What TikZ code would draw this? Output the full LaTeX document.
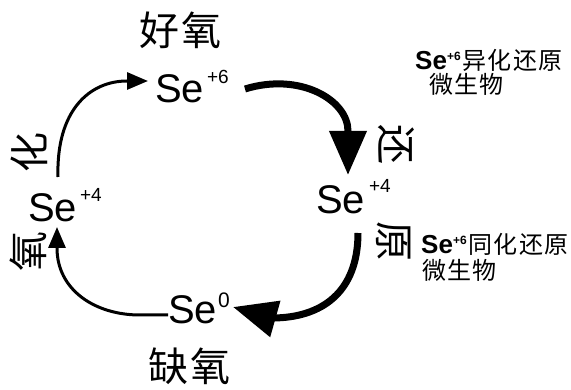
\documentclass[tikz,border=0pt]{standalone}
\usepackage{fontspec}
\setmainfont{Liberation Sans}
\newfontfamily\cjk{Noto Sans CJK SC}
\usetikzlibrary{arrows.meta}
\begin{document}
\begin{tikzpicture}[x=1pt,y=-1pt,
  bigcjk/.style={font=\cjk\fontsize{40}{40}\selectfont, inner sep=0pt},
  sel/.style={font=\fontsize{40}{40}\selectfont, inner sep=0pt, anchor=base west},
  note/.style={font=\cjk\fontsize{24}{24}\selectfont, inner sep=0pt, anchor=base west},
  thinarr/.style={line width=3pt, -{Triangle[length=21pt,width=17pt]}},
  thickarr/.style={line width=7pt, -{Triangle[length=44pt,width=36pt]}},
]
\useasboundingbox (0,0) rectangle (571,390);
% species
\node[sel] (se6) at (155,103) {Se\kern3pt\raisebox{19pt}{\fontsize{19}{19}\selectfont +6}};
\node[sel] (se4r) at (316,214) {Se\kern4pt\raisebox{21pt}{\fontsize{19}{19}\selectfont +4}};
\node[sel] (se4l) at (28,222) {Se\kern3pt\raisebox{20pt}{\fontsize{19}{19}\selectfont +4}};
\node[sel] (se0) at (168,324) {Se\kern1pt\raisebox{16pt}{\fontsize{21}{21}\selectfont 0}};
% conditions
\node[bigcjk] (aer) at (180,30) {好\kern2pt 氧};
\node[bigcjk] (anaer) at (189,366) {缺\kern2pt 氧};
\node[bigcjk, rotate=90] (ox2) at (29,153) {化};
\node[bigcjk, rotate=90] (ox1) at (28,252) {氧};
\node[bigcjk, rotate=-90] (red1) at (396,145) {还};
\node[bigcjk, rotate=-90] (red2) at (394,242) {原};
% notes
\node[note] (n1a) at (415,70) {{\fontspec{Liberation Sans}\bfseries\fontsize{26}{26}\selectfont Se\raisebox{9pt}{\fontsize{12}{12}\selectfont +6}}\kern1.5pt 异\kern1.5pt 化\kern1.5pt 还\kern1.5pt 原};
\node[note] (n1b) at (429,94) {微\kern1pt 生\kern1pt 物};
\node[note] (n2a) at (421,254) {{\fontspec{Liberation Sans}\bfseries\fontsize{26}{26}\selectfont Se\raisebox{9pt}{\fontsize{12}{12}\selectfont +6}}\kern1.5pt 同\kern1.5pt 化\kern1.5pt 还\kern1.5pt 原};
\node[note] (n2b) at (422,280) {微\kern1pt 生\kern1pt 物};
% connector end points
\coordinate (a1s) at (245,89);
\coordinate (a1e) at (348,175);
\coordinate (a2s) at (358,233);
\coordinate (a2e) at (233,307);
\coordinate (a3s) at (168,315);
\coordinate (a3e) at (57,227);
\coordinate (a4s) at (58,177);
\coordinate (a4e) at (148,81);
% arrows
\draw[thickarr] (a1s) .. controls (300,72) and (348,100) .. (348,131) -- (a1e);
\draw[thickarr] (a2s) .. controls (358,292) and (322,318) .. (272,318) -- (a2e);
\draw[thinarr] (a3s) -- (140,315) .. controls (95,315) and (57,290) .. (57,248) -- (a3e);
\draw[thinarr] (a4s) .. controls (56,110) and (90,81) .. (127,81) -- (a4e);
\end{tikzpicture}
\end{document}
